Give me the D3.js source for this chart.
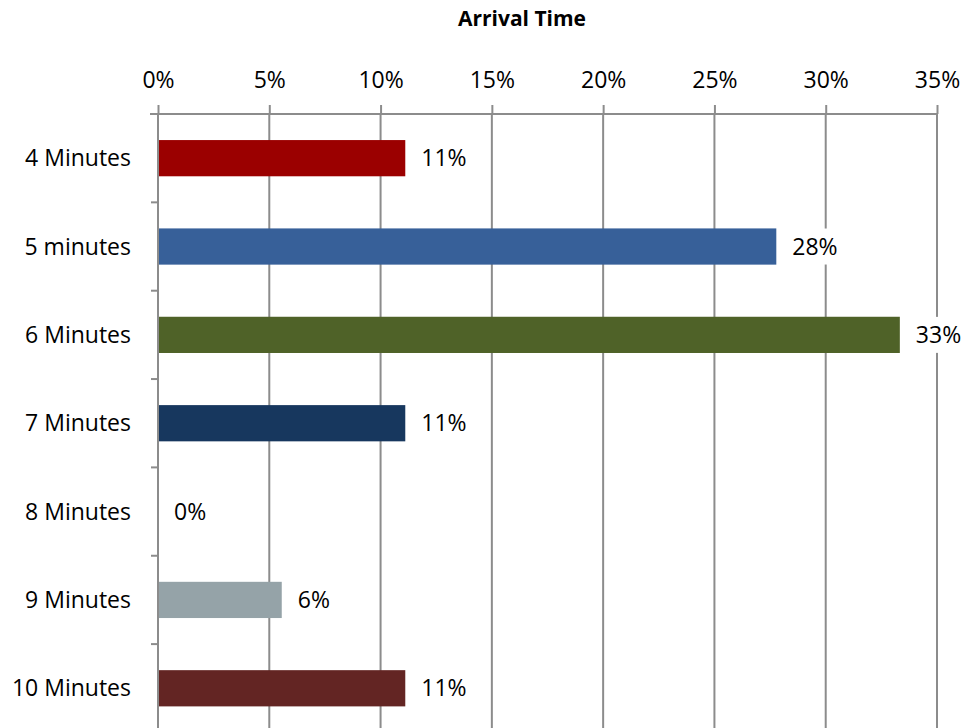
<!DOCTYPE html>
<html><head><meta charset="utf-8">
<script src="https://cdn.jsdelivr.net/npm/d3@7"></script>
<style>body{margin:0;background:#fff}svg{display:block}text{font-family:"Open Sans",sans-serif}</style>
</head><body><svg id="c" width="963" height="728"></svg>
<script>
const categories = ["4 Minutes","5 minutes","6 Minutes","7 Minutes","8 Minutes","9 Minutes","10 Minutes"];
const values = [11.11, 27.78, 33.33, 11.11, 0, 5.56, 11.11];
const labels = ["11%","28%","33%","11%","0%","6%","11%"];
const colors = ["#9b0000","#376099","#4f6228","#17375e","#7f7f7f","#95a3a8","#632523"];
const tickValues = [0,5,10,15,20,25,30,35];
const title = "Arrival Time";

const svg = d3.select("#c");
const left = 158, right = 937, plotTop = 114, step = 88.35;
const x = d3.scaleLinear().domain([0,35]).range([left,right]);
const y = d3.scaleBand().domain(categories).range([plotTop, plotTop + step*categories.length]).paddingInner(0.59).paddingOuter(0.295);
const grid = "#8c8c8c";
const ff = "'Open Sans',sans-serif";
const fs = "23px";

svg.append("text").attr("x",522).attr("y",26).attr("text-anchor","middle")
  .style("font-weight","bold").style("font-size","21px").text(title);

// gridlines
svg.append("g").selectAll("line").data(tickValues).join("line")
  .attr("x1",d=>x(d)).attr("x2",d=>x(d)).attr("y1",plotTop).attr("y2",740)
  .attr("stroke",grid).attr("stroke-width",2);

// top axis
const xa = svg.append("g").attr("transform",`translate(0,${plotTop})`)
  .call(d3.axisTop(x).tickValues(tickValues).tickFormat(d=>d+"%").tickSize(9).tickPadding(17).tickSizeOuter(0));
xa.select(".domain").attr("stroke",grid).attr("stroke-width",2).attr("d",`M${left-8},0H${right}`);
xa.selectAll(".tick line").attr("stroke",grid).attr("stroke-width",2);
xa.selectAll(".tick text").attr("fill","#000").style("font-size",fs).style("font-family",ff);

// left axis ticks
const bounds = d3.range(categories.length+1).map(i=>plotTop + i*step);
svg.append("g").selectAll("line").data(bounds).join("line")
  .attr("x1",left-7).attr("x2",left).attr("y1",d=>d).attr("y2",d=>d)
  .attr("stroke",grid).attr("stroke-width",2);
svg.append("g").selectAll("text").data(categories).join("text")
  .attr("x",131).attr("y",d=>y(d)+y.bandwidth()/2).attr("dy","0.35em")
  .attr("text-anchor","end").style("font-size",fs).text(d=>d);

// bars
svg.append("g").selectAll("rect").data(values).join("rect")
  .attr("x",x(0)+1).attr("y",(d,i)=>y(categories[i]))
  .attr("width",d=>Math.max(0,x(d)-x(0)-1)).attr("height",y.bandwidth())
  .attr("fill",(d,i)=>colors[i]);

// value labels with white backgrounds
const lg = svg.append("g").selectAll("g").data(values).join("g")
  .attr("transform",(d,i)=>`translate(${x(d)+16},${y(categories[i])+y.bandwidth()/2})`);
lg.append("rect").attr("x",-6).attr("y",-18).attr("width",(d,i)=>labels[i].length*16+10).attr("height",36).attr("fill","#fff");
lg.append("text").attr("dy","0.35em").style("font-size",fs).text((d,i)=>labels[i]);
</script></body></html>
